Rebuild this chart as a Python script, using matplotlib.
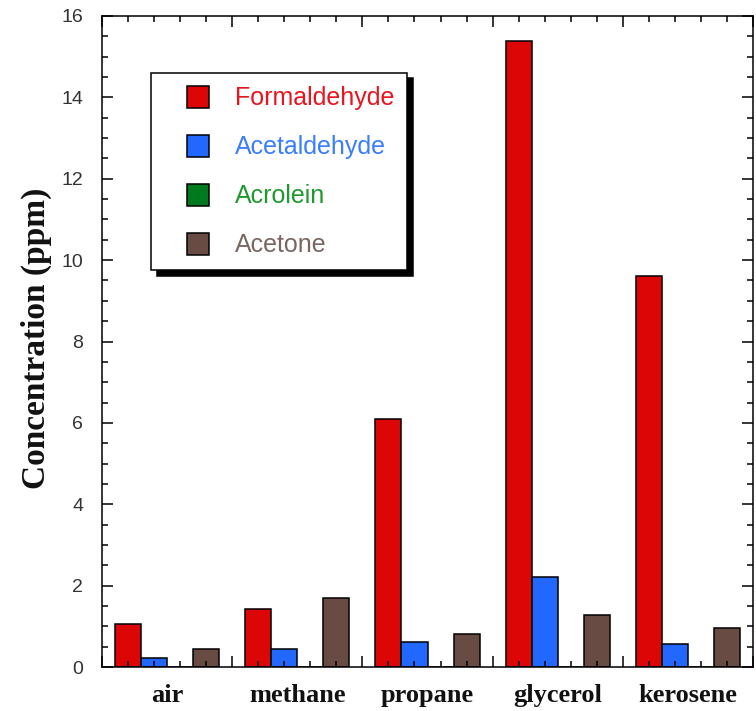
import matplotlib
matplotlib.use("Agg")
import matplotlib.pyplot as plt
import matplotlib.patches as mpatches
from matplotlib.legend_handler import HandlerPatch
import numpy as np

# data
fuels = ["air", "methane", "propane", "glycerol", "kerosene"]
series = ["Formaldehyde", "Acetaldehyde", "Acrolein", "Acetone"]
formaldehyde = [1.06, 1.42, 6.09, 15.38, 9.60]
acetaldehyde = [0.22, 0.45, 0.62, 2.22, 0.57]
acrolein = [0.0, 0.0, 0.0, 0.0, 0.0]
acetone = [0.45, 1.69, 0.80, 1.28, 0.97]

bar_colors = ["#dd0606", "#2268ff", "#007a1e", "#684c44"]
text_colors = ["#e8141e", "#3a7dff", "#1f9a2e", "#7a6660"]

plt.rcParams['font.family'] = ['Liberation Sans', 'DejaVu Sans']
plt.rcParams['xtick.direction'], plt.rcParams['ytick.direction'] = 'in', 'in'
plt.rcParams['xtick.top'], plt.rcParams['ytick.right'] = True, True


def square_patch(legend, orig_handle, xdescent, ydescent, width, height, fontsize):
    # square sitting at the right end of the handle box
    side = height
    return mpatches.Rectangle((width - side - xdescent, -ydescent), side, side)


fig = plt.figure(figsize=(7.56, 7.11), dpi=100)
ax = fig.add_axes([102/756, 44/711, 651/756, 651/711])

values = [formaldehyde, acetaldehyde, acrolein, acetone]
n = len(fuels)
bw = 0.2
bars = []
for j, (vals, col, lab) in enumerate(zip(values, bar_colors, series)):
    x = np.arange(n) + 0.2 + bw * j
    b = ax.bar(x, vals, width=bw, color=col, edgecolor='black', linewidth=1.1, label=lab)
    bars.append(b)

ax.set_xlim(0, n)
ax.set_ylim(0, 16)

# x ticks: long at group boundaries, short at bar centres
ax.set_xticks(np.arange(0, n + 1))
ax.set_xticks(np.concatenate([np.arange(n) + 0.2 + bw * j for j in range(4)]), minor=True)
ax.xaxis.set_ticklabels([])
ax.tick_params(axis='x', which='major', length=8, width=1.1)
ax.tick_params(axis='x', which='minor', length=4.3, width=1.1)

ax.set_yticks(np.arange(0, 17, 2))
ax.set_yticks(np.arange(0, 16.01, 0.5), minor=True)
ax.tick_params(axis='y', which='major', length=8, width=1.1, labelsize=14,
               labelcolor='#333333', pad=13.5)
ax.tick_params(axis='y', which='minor', length=4.3, width=1.1)

for s in ax.spines.values():
    s.set_linewidth(1.1)

for i, name in enumerate(fuels):
    ax.text(i + 0.5, -0.053, name, transform=ax.get_xaxis_transform(),
            ha='center', va='baseline', fontsize=19, fontweight='bold',
            family='Liberation Serif', color='#111111')

ax.set_ylabel("Concentration (ppm)", fontsize=24, fontweight='bold',
              family='Liberation Serif', color='#111111')
ax.yaxis.set_label_coords(-0.077, 0.505)

leg = ax.legend(handles=[b.patches[0] for b in bars], labels=series,
                loc='upper left', bbox_to_anchor=(0.0753, 0.9127), borderaxespad=0,
                fontsize=18, labelcolor=text_colors, handlelength=1.8,
                handleheight=0.975, handletextpad=1.04, labelspacing=0.976,
                borderpad=0.52, fancybox=False, framealpha=1, edgecolor='black',
                shadow={'ox': 4, 'oy': -4, 'color': 'black', 'alpha': 1},
                handler_map={mpatches.Rectangle: HandlerPatch(patch_func=square_patch)})
leg.get_frame().set_linewidth(1.1)

fig.savefig("out.png", dpi=100)
